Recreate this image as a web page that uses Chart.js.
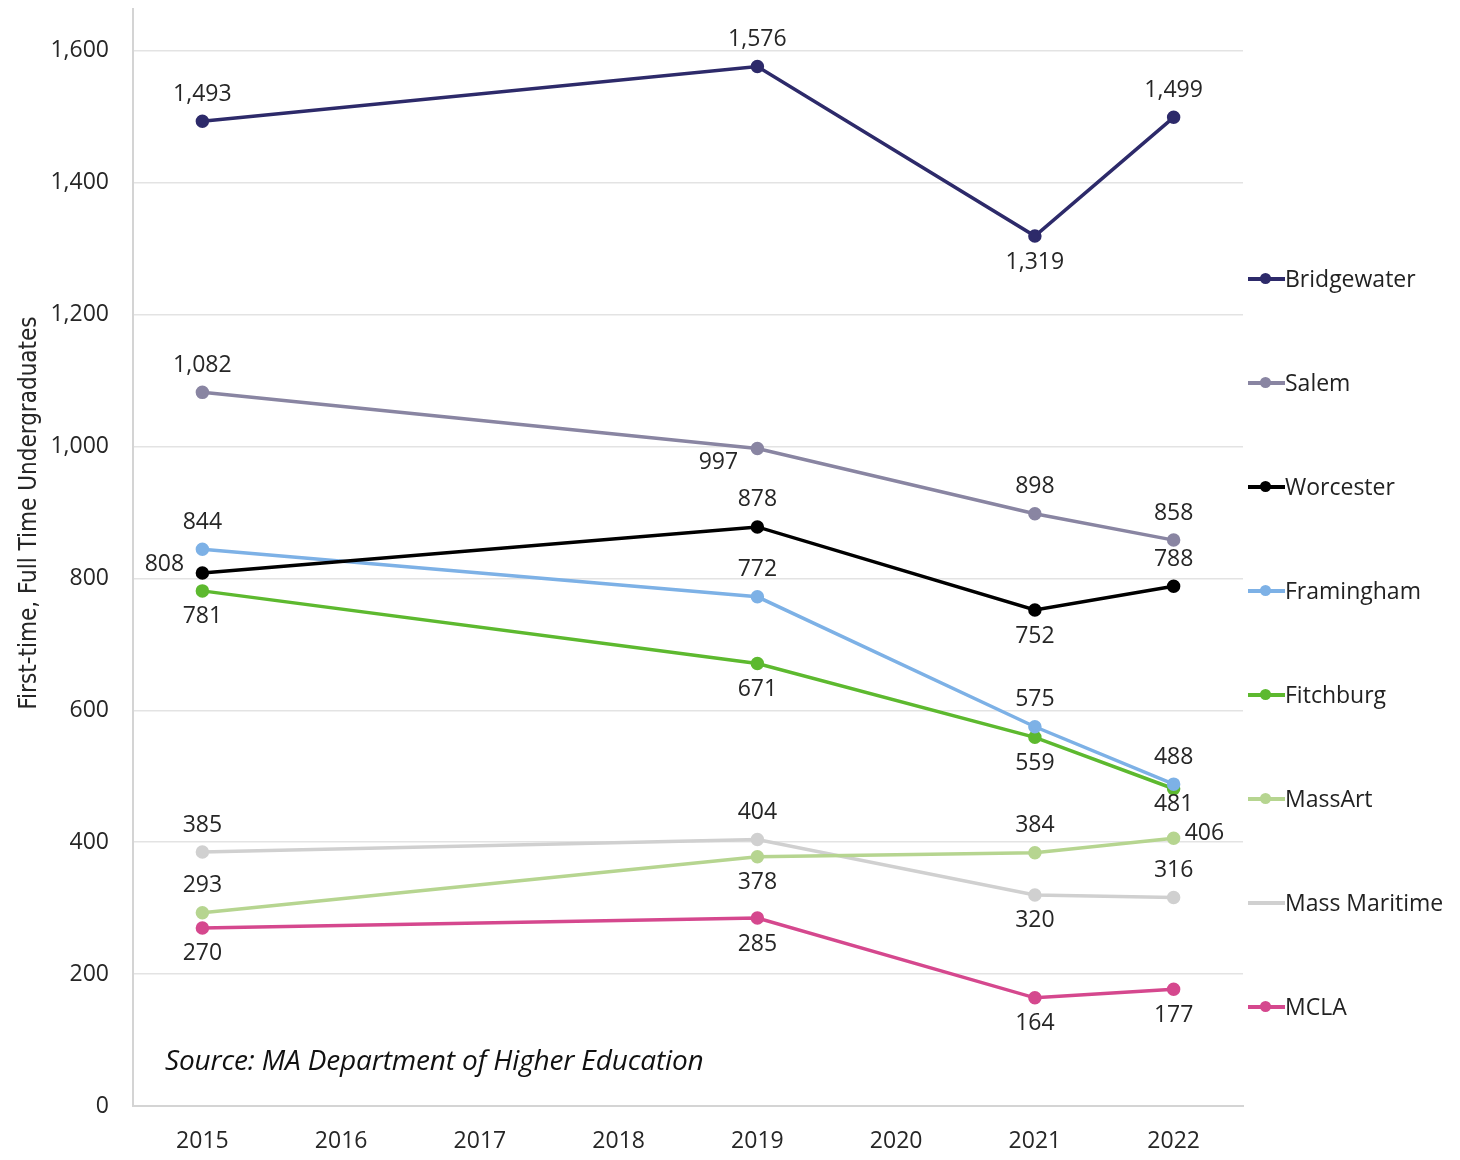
<!DOCTYPE html>
<html>
<head>
<meta charset="utf-8">
<script src="https://cdn.jsdelivr.net/npm/chart.js@4.4.0/dist/chart.umd.min.js"></script>
<style>
  html,body{margin:0;padding:0;background:#fff;}
  #wrap{position:relative;width:1460px;height:1160px;}
  #source{position:absolute;left:165px;top:1040px;font:italic 28px "Open Sans",sans-serif;color:#111;letter-spacing:-0.15px;}
  #legend{position:absolute;left:1248px;top:0;}
  .item{position:absolute;left:0;white-space:nowrap;font:23px "Open Sans",sans-serif;color:#222;height:30px;line-height:30px;}
  .sw{display:inline-block;position:relative;width:37px;height:30px;vertical-align:top;}
  .sw i{position:absolute;left:0;top:14px;width:37px;height:3.5px;}
  .sw b{position:absolute;left:12px;top:10px;width:11px;height:11px;border-radius:50%;}
</style>
</head>
<body>
<div id="wrap">
  <canvas id="myChart" width="1460" height="1160"></canvas>
  <div id="source">Source: MA Department of Higher Education</div>
  <div id="legend"></div>
</div>
<script>
var years = ['2015','2016','2017','2018','2019','2020','2021','2022'];
var names = ['Bridgewater','Salem','Worcester','Framingham','Fitchburg','MassArt','Mass Maritime','MCLA'];
var colors = ['#2d2a6a','#8985a2','#000000','#7db1e6','#5db92f','#b6d590','#d0d0d0','#d5488e'];

var bridgewater  = [1493,null,null,null,1576,null,1319,1499];
var salem        = [1082,null,null,null,997,null,898,858];
var worcester    = [808,null,null,null,878,null,752,788];
var framingham   = [844,null,null,null,772,null,575,488];
var fitchburg    = [781,null,null,null,671,null,559,481];
var massart      = [293,null,null,null,378,null,384,406];
var massMaritime = [385,null,null,null,404,null,320,316];
var mcla         = [270,null,null,null,285,null,164,177];

// where each value label goes: a=above b=below l=left r=right bl=below-left
var labelPos = [
  ['a','','','','a','','b','a'],
  ['a','','','','bl','','a','a'],
  ['l','','','','a','','b','a'],
  ['a','','','','a','','a','a'],
  ['b','','','','b','','b','b2'],
  ['a','','','','b','','a','r'],
  ['a','','','','a','','b','a'],
  ['b','','','','b','','b','b']
];

var series = [bridgewater,salem,worcester,framingham,fitchburg,massart,massMaritime,mcla];

function getdatasets(){
  var ds = [];
  for (var i = 0; i < series.length; i++) {
    ds.push({
      label: names[i],
      data: series[i],
      borderColor: colors[i],
      backgroundColor: colors[i],
      pointBackgroundColor: colors[i],
      pointBorderColor: colors[i],
      borderWidth: 3.5,
      pointRadius: 5,
      spanGaps: true,
      tension: 0
    });
  }
  return ds;
}

var valueLabels = {
  id: 'valueLabels',
  afterDatasetsDraw: function(chart){
    var ctx = chart.ctx;
    ctx.save();
    ctx.font = '23px "Open Sans", sans-serif';
    ctx.fillStyle = '#262626';
    ctx.textBaseline = 'middle';
    chart.data.datasets.forEach(function(ds, i){
      var meta = chart.getDatasetMeta(i);
      meta.data.forEach(function(pt, j){
        var v = ds.data[j];
        if (v === null) return;
        var txt = v.toLocaleString('en-US');
        var p = labelPos[i][j];
        var x = pt.x, y = pt.y;
        ctx.textAlign = 'center';
        if (p === 'a') y -= 27;
        else if (p === 'b') y += 26;
        else if (p === 'b2') y += 16;
        else if (p === 'l') { x -= 38; y -= 9; }
        else if (p === 'r') { ctx.textAlign = 'left'; x += 11; y -= 5; }
        else if (p === 'bl') { x -= 39; y += 14; }
        ctx.fillText(txt, x, y);
      });
    });
    // axis title
    ctx.translate(30, 513);
    ctx.rotate(-Math.PI / 2);
    ctx.textAlign = 'center';
    ctx.font = '24px "DejaVu Sans Condensed", "Liberation Sans Narrow", "Open Sans", sans-serif';
    ctx.fillText('First-time, Full Time Undergraduates', 0, 0);
    ctx.restore();
  }
};

function printlegend(){
  var html = '';
  for (var i = 0; i < names.length; i++) {
    var top = 263 + i * 104;
    var dot = i === 6 ? '' : '<b style="background:' + colors[i] + '"></b>';
    html += '<div class="item" style="top:' + top + 'px"><span class="sw"><i style="background:' + colors[i] + '"></i>' + dot + '</span>' + names[i] + '</div>';
  }
  document.getElementById('legend').innerHTML = html;
}

function printgraph(){
  var ctx = document.getElementById('myChart').getContext('2d');
  new Chart(ctx, {
    type: 'line',
    data: { labels: years, datasets: getdatasets() },
    options: {
      responsive: false,
      animation: false,
      layout: { padding: { top: 4, right: 217, left: 0, bottom: 0 } },
      plugins: { legend: { display: false }, tooltip: { enabled: false } },
      scales: {
        x: {
          offset: true,
          grid: { display: false, drawTicks: false },
          border: { color: '#d4d4d4', width: 2 },
          ticks: { color: '#262626', font: { family: 'Open Sans', size: 23 }, padding: 22 },
          afterFit: function(s){ s.height = 54; s.paddingLeft = 0; s.paddingRight = 0; }
        },
        y: {
          min: 0,
          max: 1664,
          grid: { color: '#e3e3e3', lineWidth: 1.5, drawTicks: false },
          border: { color: '#d4d4d4', width: 2 },
          ticks: {
            stepSize: 200,
            color: '#262626',
            font: { family: 'Open Sans', size: 23 },
            padding: 24,
            callback: function(v){ return v.toLocaleString('en-US'); }
          },
          afterBuildTicks: function(s){
            s.ticks = s.ticks.filter(function(t){ return t.value % 200 === 0; });
          },
          afterFit: function(s){ s.width = 133; s.paddingTop = 0; s.paddingBottom = 0; }
        }
      }
    },
    plugins: [valueLabels]
  });
}

printlegend();
printgraph();
</script>
</body>
</html>
